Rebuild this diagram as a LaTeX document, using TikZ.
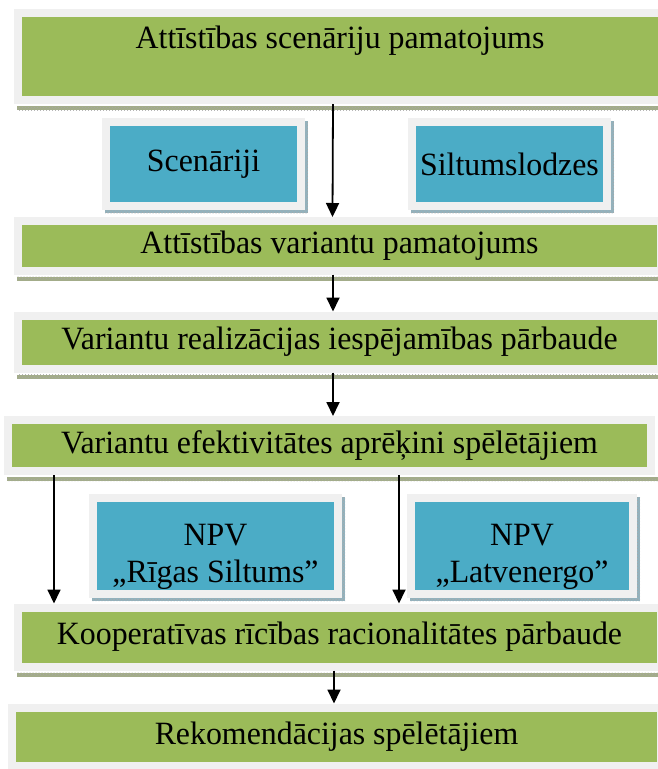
\documentclass[tikz,border=0pt]{standalone}
\usepackage{fontspec}
\setmainfont[FakeStretch=0.98]{Liberation Serif}
\usetikzlibrary{positioning,arrows.meta,patterns,backgrounds}
\definecolor{boxgreen}{HTML}{9BBB59}
\definecolor{boxblue}{HTML}{4BACC6}
\definecolor{ring}{HTML}{F0F0F0}
\definecolor{shadegreen}{HTML}{A3AD88}
\definecolor{shadeblue}{HTML}{93B3BE}

\begin{document}
\begin{tikzpicture}[x=1pt,y=-1pt,
    stage/.style={draw=ring,line width=8pt,fill=boxgreen,inner sep=0pt,
      font=\fontsize{32.5}{37}\selectfont},
    input/.style={draw=ring,line width=8pt,fill=boxblue,inner sep=0pt,
      align=center,minimum height=84pt,font=\fontsize{32.5}{37}\selectfont},
    gshade/.style={fill=shadegreen,postaction={pattern=crosshatch dots,pattern color=black!35}},
    bshade/.style={fill=shadeblue,postaction={pattern=crosshatch dots,pattern color=black!35}},
    arr/.style={-{Triangle[length=14pt,width=13pt]},line width=1.8pt}]
  \useasboundingbox (0,0) rectangle (658,769);
  % galvenie soli
  \node[stage,minimum width=644pt,minimum height=87pt,text depth=38pt] (scen) at (340,56.5) {Attīstības scenāriju pamatojums};
  \node[stage,minimum width=643pt,minimum height=49.5pt] (var) at (339.5,245.75) {Attīstības variantu pamatojums};
  \node[stage,minimum width=643pt,minimum height=53pt] (real) at (339.5,342) {Variantu realizācijas iespējamības pārbaude};
  \node[stage,minimum width=643pt,minimum height=51pt] (efekt) at (329.5,445.5) {Variantu efektivitātes aprēķini spēlētājiem};
  \node[stage,minimum width=643pt,minimum height=59pt] (koop) at (339.5,637) {Kooperatīvas rīcības racionalitātes pārbaude};
  \node[stage,minimum width=649pt,minimum height=58pt] (rek) at (336.5,736.5) {Rekomendācijas spēlētājiem};
  % ievaddati
  \node[input,minimum width=195pt] (scenariji) at (203.5,164) {Scenāriji};
  \node[input,minimum width=195pt] (slodzes) at (509.5,164) {Siltumslodzes};
  \node[input,minimum width=245pt,minimum height=96pt,text height=80pt] (npvrs) at (215.5,546) {NPV\\„Rīgas Siltums”};
  \node[input,minimum width=222pt,minimum height=96pt,text height=80pt] (npvle) at (522,546) {NPV\\„Latvenergo”};
  \begin{scope}[on background layer]
    \foreach \b in {scen,var,real,efekt,koop}
      \path[gshade] ([shift={(3,2)}]\b.south west) rectangle ([shift={(6,6)}]\b.south east);
    \foreach \b in {scenariji,slodzes,npvrs,npvle}
      \path[bshade] ([shift={(3,3)}]\b.north west) rectangle ([shift={(3,3)}]\b.south east);
  \end{scope}
  % bultas
  \draw[arr] ([xshift=-7pt]scen.south) -- ([xshift=-7pt]var.north);
  \draw[arr] ([xshift=-6.5pt]var.south) -- ([xshift=-6.5pt]real.north);
  \draw[arr] ([xshift=-6.5pt]real.south) -- ([xshift=3.5pt]efekt.north);
  \draw[arr] (efekt.south -| 54,0) -- (koop.north -| 54,0);
  \draw[arr] (efekt.south -| 399,0) -- (koop.north -| 399,0);
  \draw[arr] ([xshift=-5.5pt]koop.south) -- ([xshift=-2.5pt]rek.north);
\end{tikzpicture}
\end{document}
